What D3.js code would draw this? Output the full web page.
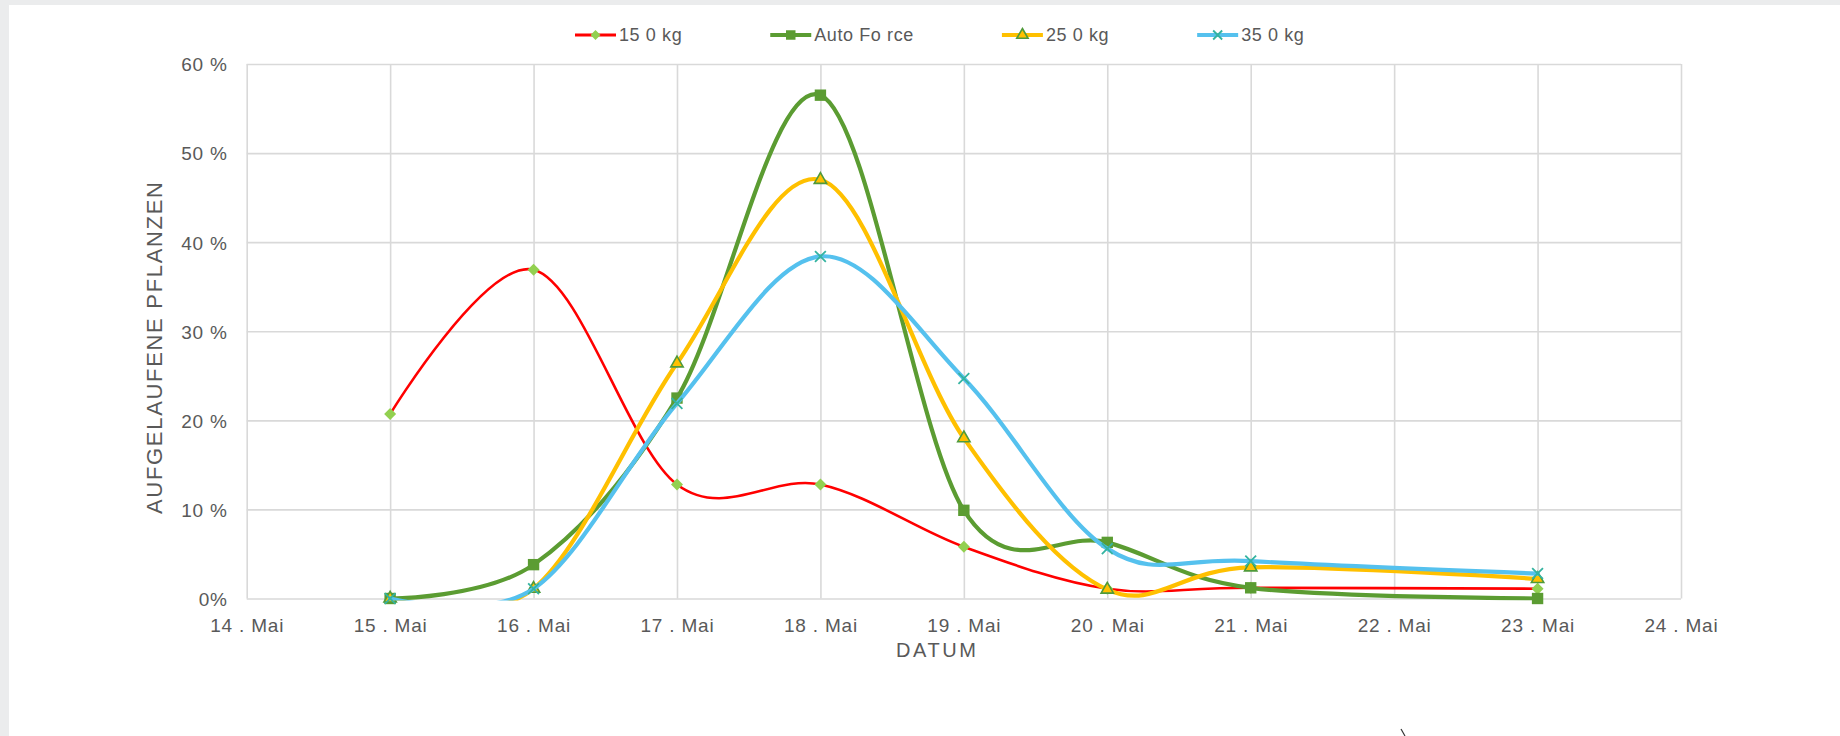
<!DOCTYPE html>
<html>
<head>
<meta charset="utf-8">
<script src="https://cdn.jsdelivr.net/npm/d3@7"></script>
<style>
  body { margin: 0; background: #fff; }
  svg { display: block; font-family: "Liberation Sans", Arial, sans-serif; }
</style>
</head>
<body>
<div id="wrapper"></div>
<script>
// data (percent of emerged plants per day)
const days = [15, 16, 17, 18, 19, 20, 21, 23]
const seriesNames = ['15 0 kg', 'Auto Fo rce', '25 0 kg', '35 0 kg']
const kg150 = [20.7, 36.9, 12.8, 12.8, 5.8, 1.1, 1.2, 1.1]
const autoForce = [0, 3.8, 22.5, 56.5, 9.9, 6.3, 1.2, 0]
const kg250 = [0, 1.1, 26.4, 47.0, 18.0, 1.0, 3.5, 2.2]
const kg350 = [0, 1.1, 21.9, 38.4, 24.7, 5.6, 4.2, 2.8]

const xTickDays = [14, 15, 16, 17, 18, 19, 20, 21, 22, 23, 24]
const xTickLabels = ['14 . Mai', '15 . Mai', '16 . Mai', '17 . Mai', '18 . Mai', '19 . Mai',
  '20 . Mai', '21 . Mai', '22 . Mai', '23 . Mai', '24 . Mai']
const yTickValues = [0, 10, 20, 30, 40, 50, 60]
const yTickLabels = ['0%', '10 %', '20 %', '30 %', '40 %', '50 %', '60 %']

function drawChart() {

  //1.dimensions
  const dimensions = {
    width: 1840,
    height: 736,
    margin: { top: 64, right: 159, bottom: 137.5, left: 246.7 }
  }
  dimensions.boundedWidth = dimensions.width - dimensions.margin.left - dimensions.margin.right
  dimensions.boundedHeight = dimensions.height - dimensions.margin.top - dimensions.margin.bottom

  const styles = [
    { color: '#ff0000', width: 2.6, marker: 'diamond' },
    { color: '#5b9c32', width: 4.2, marker: 'square' },
    { color: '#ffc000', width: 4.2, marker: 'triangle' },
    { color: '#55c1ee', width: 4.2, marker: 'x' }
  ]
  const allSeries = [kg150, autoForce, kg250, kg350].map((values, i) => ({
    name: seriesNames[i],
    style: styles[i],
    points: days.map((d, j) => ({ day: d, value: values[j] }))
  }))

  //2.canvas
  const wrapper = d3.select('#wrapper').append('svg')
    .attr('width', dimensions.width)
    .attr('height', dimensions.height)

  // grey page edge
  wrapper.append('rect')
    .attr('width', dimensions.width).attr('height', dimensions.height)
    .attr('fill', '#ebeced')
  wrapper.append('rect')
    .attr('x', 9).attr('y', 5)
    .attr('width', dimensions.width - 9).attr('height', dimensions.height - 5)
    .attr('fill', '#fff')

  const bounds = wrapper.append('g')
    .attr('transform', `translate(${dimensions.margin.left}, ${dimensions.margin.top})`)

  //3.scales
  const xScale = d3.scaleLinear()
    .domain([14, 24])
    .range([0, dimensions.boundedWidth])
  const yScale = d3.scaleLinear()
    .domain([0, 60])
    .range([dimensions.boundedHeight, 0])

  //4.axes + grid
  const xAxis = bounds.append('g')
    .attr('transform', `translate(0, ${dimensions.boundedHeight})`)
    .call(d3.axisBottom(xScale)
      .tickValues(xTickDays)
      .tickFormat((d, i) => xTickLabels[i])
      .tickSize(-dimensions.boundedHeight)
      .tickPadding(20))
  const yAxis = bounds.append('g')
    .call(d3.axisLeft(yScale)
      .tickValues(yTickValues)
      .tickFormat((d, i) => yTickLabels[i])
      .tickSize(-dimensions.boundedWidth)
      .tickPadding(19))

  ;[xAxis, yAxis].forEach(ax => {
    ax.select('.domain').remove()
    ax.selectAll('.tick line').attr('stroke', '#d9d9d9').attr('stroke-width', 1.6)
    ax.selectAll('.tick text')
      .attr('fill', '#595959')
      .style('font-size', '19px')
      .style('letter-spacing', '0.8px')
  })
  yAxis.selectAll('.tick text').attr('dy', '0.36em')

  // axis titles
  wrapper.append('text')
    .attr('transform', 'translate(162, 348) rotate(-90)')
    .attr('text-anchor', 'middle')
    .attr('fill', '#595959')
    .style('font-size', '22px')
    .attr('textLength', 332)
    .attr('lengthAdjust', 'spacing')
    .text('AUFGELAUFENE PFLANZEN')

  wrapper.append('text')
    .attr('x', 936)
    .attr('y', 656.5)
    .attr('text-anchor', 'middle')
    .attr('fill', '#595959')
    .style('font-size', '20px')
    .attr('textLength', 80)
    .attr('lengthAdjust', 'spacing')
    .text('DATUM')

  //5.lines
  const lineGenerator = d3.line()
    .x(d => xScale(d.day))
    .y(d => yScale(d.value))
    .curve(d3.curveCatmullRom.alpha(0))

  wrapper.append('clipPath').attr('id', 'plotClip')
    .append('rect')
    .attr('x', -20).attr('y', -20)
    .attr('width', dimensions.boundedWidth + 40)
    .attr('height', dimensions.boundedHeight + 22)

  const drawMarker = (sel, style, size) => {
    const h = size / 2
    if (style.marker === 'diamond') {
      sel.append('path')
        .attr('d', `M0,${-h}L${h},0L0,${h}L${-h},0Z`)
        .attr('fill', '#92d050')
    } else if (style.marker === 'square') {
      sel.append('path')
        .attr('d', d3.symbol(d3.symbolSquare, size * size * 0.9)())
        .attr('fill', '#5b9c32')
    } else if (style.marker === 'triangle') {
      sel.append('path')
        .attr('d', d3.symbol(d3.symbolTriangle, size * 5.5)())
        .attr('fill', '#ffc000')
        .attr('stroke', '#4f9a3a')
        .attr('stroke-width', 1.6)
    } else {
      const k = h * 0.9
      sel.append('path')
        .attr('d', `M${-k},${-k}L${k},${k}M${-k},${k}L${k},${-k}`)
        .attr('stroke', '#34b3a0')
        .attr('stroke-width', 1.8)
        .attr('fill', 'none')
    }
  }

  allSeries.forEach(s => {
    const g = bounds.append('g')
    g.append('path')
      .attr('d', lineGenerator(s.points))
      .attr('fill', 'none')
      .attr('stroke', s.style.color)
      .attr('stroke-width', s.style.width)
      .attr('stroke-linecap', 'round')
      .attr('clip-path', 'url(#plotClip)')
    g.selectAll('.marker')
      .data(s.points)
      .enter().append('g')
        .attr('class', 'marker')
        .attr('transform', d => `translate(${xScale(d.day)}, ${yScale(d.value)})`)
        .each(function() { drawMarker(d3.select(this), s.style, 12) })
  })

  //6.legend
  const legend = wrapper.append('g').attr('transform', 'translate(575, 35)')
  let cursor = 0
  allSeries.forEach(s => {
    const item = legend.append('g').attr('transform', `translate(${cursor}, 0)`)
    item.append('line')
      .attr('x1', 0).attr('x2', 41)
      .attr('stroke', s.style.color)
      .attr('stroke-width', s.style.marker === 'diamond' ? 3 : 4.2)
    drawMarker(item.append('g').attr('transform', 'translate(20.5, 0)'), s.style, 10)
    const label = item.append('text')
      .attr('x', 44)
      .attr('dy', '0.36em')
      .attr('fill', '#595959')
      .style('font-size', '18px')
      .style('letter-spacing', '0.6px')
      .text(s.name)
    cursor += 44 + label.node().getComputedTextLength() + 88
  })

  // small stray mark at the bottom edge
  wrapper.append('path')
    .attr('d', 'M1401,729 L1405,736')
    .attr('stroke', '#333')
    .attr('stroke-width', 1.2)
}
drawChart()
</script>
</body>
</html>
